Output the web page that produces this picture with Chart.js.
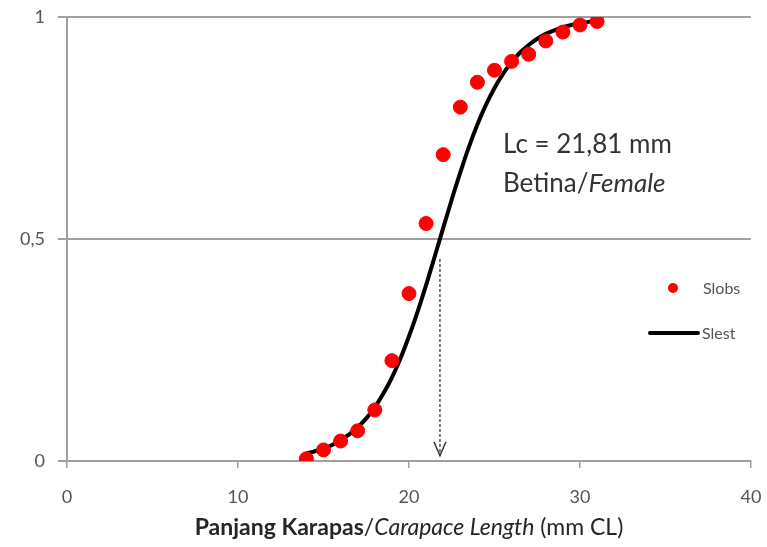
<!DOCTYPE html>
<html>
<head>
<meta charset="utf-8">
<script src="https://cdn.jsdelivr.net/npm/chart.js@4/dist/chart.umd.min.js"></script>
<style>
  html, body { margin: 0; padding: 0; background: #fff; }
  #wrap { width: 767px; height: 547px; position: relative; }
</style>
</head>
<body>
<div id="wrap"><canvas id="c" width="767" height="547"></canvas></div>
<script>
// Observed selection ogive (Slobs)
const lengthObs = [14, 15, 16, 17, 18, 19, 20, 21, 22, 23, 24, 25, 26, 27, 28, 29, 30, 31];
const slObs = [0.005, 0.025, 0.045, 0.068, 0.115, 0.226, 0.377, 0.535, 0.69, 0.797, 0.853, 0.88, 0.90, 0.916, 0.946, 0.966, 0.982, 0.99];

// Estimated selection curve (Slest)
const lengthEst = [14, 14.5, 15, 15.5, 16, 16.5, 17, 17.5, 18, 18.5, 19, 19.5, 20, 20.5, 21, 21.5, 22, 22.5, 23, 23.5, 24, 24.5, 25, 25.5, 26, 26.5, 27, 27.5, 28, 28.5, 29, 29.5, 30, 30.5, 31];
const slEst = [0.017, 0.022, 0.028, 0.036, 0.047, 0.06, 0.076, 0.096, 0.121, 0.152, 0.188, 0.231, 0.281, 0.336, 0.396, 0.46, 0.525, 0.589, 0.65, 0.707, 0.758, 0.802, 0.84, 0.872, 0.898, 0.92, 0.937, 0.951, 0.962, 0.97, 0.977, 0.982, 0.986, 0.989, 0.992];

// Lc marker
const lcValue = 21.81;
const lcArrowTop = 0.455;
const lcArrowBottom = 0.012;

// Axis ticks
const xTicks = [0, 10, 20, 30, 40];
const yTicks = [0, 0.5, 1];

// Texts
const xTitleParts = [
  { text: 'Panjang Karapas', style: 'bold' },
  { text: '/', style: 'normal' },
  { text: 'Carapace Length', style: 'italic' },
  { text: ' (mm CL)', style: 'normal' }
];
const annotLine1 = 'Lc = 21,81 mm';
const annotLine2a = 'Betina/';
const annotLine2b = 'Female';
const legendObs = 'Slobs';
const legendEst = 'Slest';

const FONT = 'Lato, "Open Sans", sans-serif';
const GRID = '#a0a0a0';

const obsData = lengthObs.map((x, i) => ({ x: x, y: slObs[i] }));
const estData = lengthEst.map((x, i) => ({ x: x, y: slEst[i] }));

const extras = {
  id: 'extras',
  afterDatasetsDraw(chart) {
    const ctx = chart.ctx;
    const xs = chart.scales.x, ys = chart.scales.y;
    const ca = chart.chartArea;
    ctx.save();
    // Dashed arrow at Lc
    const ax = xs.getPixelForValue(lcValue);
    const ay1 = ys.getPixelForValue(lcArrowTop);
    const ay2 = ys.getPixelForValue(lcArrowBottom);
    ctx.strokeStyle = '#555';
    ctx.lineWidth = 1.5;
    ctx.setLineDash([3, 2]);
    ctx.beginPath();
    ctx.moveTo(ax, ay1);
    ctx.lineTo(ax, ay2);
    ctx.stroke();
    ctx.setLineDash([]);
    ctx.strokeStyle = '#333';
    ctx.lineWidth = 1.5;
    ctx.beginPath();
    ctx.moveTo(ax - 6, ay2 - 14);
    ctx.lineTo(ax, ay2);
    ctx.lineTo(ax + 6, ay2 - 14);
    ctx.stroke();

    // Annotation text
    ctx.fillStyle = '#333';
    ctx.textBaseline = 'middle';
    ctx.textAlign = 'left';
    ctx.font = '26px ' + FONT;
    ctx.fillText(annotLine1, 503, 145);
    ctx.fillText(annotLine2a, 503, 184);
    const w2 = ctx.measureText(annotLine2a).width;
    ctx.font = 'italic 26px ' + FONT;
    ctx.fillText(annotLine2b, 503 + w2, 184);

    // Legend
    ctx.fillStyle = '#ff0000';
    ctx.beginPath();
    ctx.arc(673, 288, 5, 0, Math.PI * 2);
    ctx.fill();
    ctx.strokeStyle = '#000';
    ctx.lineWidth = 4;
    ctx.lineCap = 'round';
    ctx.beginPath();
    ctx.moveTo(650, 333);
    ctx.lineTo(698, 333);
    ctx.stroke();
    ctx.fillStyle = '#555';
    ctx.font = '16px ' + FONT;
    ctx.fillText(legendObs, 703, 289);
    ctx.fillText(legendEst, 702, 334);

    // X axis title with mixed styles
    const fs = 23;
    const fonts = { bold: 'bold ' + fs + 'px ' + FONT, normal: fs + 'px ' + FONT, italic: 'italic ' + fs + 'px ' + FONT };
    let total = 0;
    xTitleParts.forEach(p => { ctx.font = fonts[p.style]; total += ctx.measureText(p.text).width; });
    let x0 = (ca.left + ca.right) / 2 - total / 2;
    ctx.fillStyle = '#262626';
    xTitleParts.forEach(p => {
      ctx.font = fonts[p.style];
      ctx.fillText(p.text, x0, 528);
      x0 += ctx.measureText(p.text).width;
    });
    ctx.restore();
  }
};

new Chart(document.getElementById('c'), {
  type: 'scatter',
  data: {
    datasets: [
      {
        label: legendObs,
        data: obsData,
        backgroundColor: '#ff0000',
        borderColor: '#ff0000',
        pointRadius: 7,
        pointHoverRadius: 7,
        showLine: false,
        order: 1
      },
      {
        label: legendEst,
        data: estData,
        borderColor: '#000000',
        backgroundColor: '#000000',
        borderWidth: 4,
        pointRadius: 0,
        showLine: true,
        cubicInterpolationMode: 'monotone',
        order: 2
      }
    ]
  },
  options: {
    responsive: false,
    animation: false,
    events: [],
    layout: { padding: { left: 0, right: 16, top: 17, bottom: 0 } },
    plugins: {
      legend: { display: false },
      tooltip: { enabled: false },
      title: { display: false }
    },
    scales: {
      x: {
        type: 'linear',
        min: 0, max: 40,
        afterBuildTicks: (s) => { s.ticks = xTicks.map(v => ({ value: v })); },
        afterFit: (s) => { s.height = 86; s.paddingLeft = 0; s.paddingRight = 0; },
        ticks: {
          font: { family: FONT, size: 18 },
          color: '#555',
          padding: 18,
          maxRotation: 0
        },
        grid: { display: true, drawOnChartArea: false, drawTicks: true, tickLength: 7, color: GRID, lineWidth: 1.5 },
        border: { display: true, color: GRID, width: 2 }
      },
      y: {
        type: 'linear',
        min: 0, max: 1,
        afterBuildTicks: (s) => { s.ticks = yTicks.map(v => ({ value: v })); },
        afterFit: (s) => { s.width = 67; s.paddingTop = 0; s.paddingBottom = 0; },
        ticks: {
          font: { family: FONT, size: 18 },
          color: '#555',
          padding: 13,
          callback: (v) => String(v).replace('.', ',')
        },
        grid: { display: true, drawOnChartArea: true, drawTicks: true, tickLength: 9, color: GRID, lineWidth: 2 },
        border: { display: true, color: GRID, width: 2 }
      }
    }
  },
  plugins: [extras]
});
</script>
</body>
</html>
